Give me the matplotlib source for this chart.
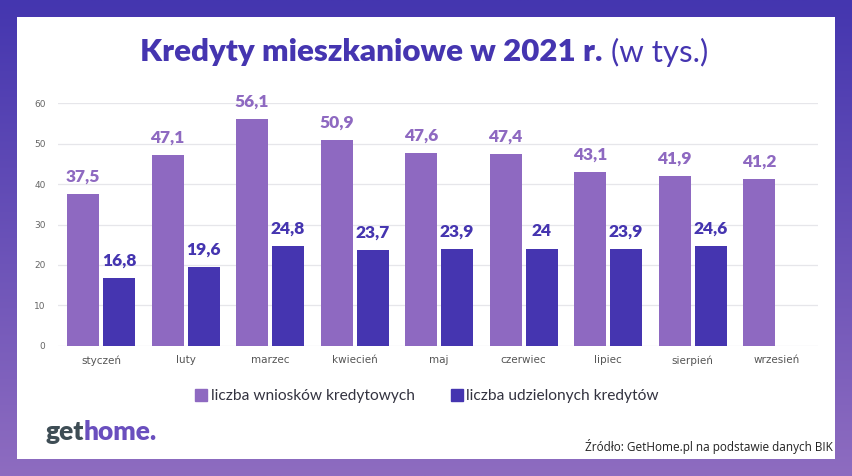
import numpy as np
import matplotlib
matplotlib.use("Agg")
import matplotlib.pyplot as plt
from matplotlib.patches import Rectangle
from matplotlib.lines import Line2D

months = ["styczeń", "luty", "marzec", "kwiecień", "maj", "czerwiec", "lipiec", "sierpień", "wrzesień"]
wnioski = [37.5, 47.1, 56.1, 50.9, 47.6, 47.4, 43.1, 41.9, 41.2]
udzielone = [16.8, 19.6, 24.8, 23.7, 23.9, 24, 23.9, 24.6, None]
yticks = [0, 10, 20, 30, 40, 50, 60]

LIGHT = "#8E69C1"
DARK = "#4535B0"
GRID = "#E6E6EA"

fig = plt.figure(figsize=(8.52, 4.76), dpi=100)
W, H = 852, 476

# background gradient
bg = fig.add_axes([0, 0, 1, 1])
bg.set_axis_off()
top = np.array(matplotlib.colors.to_rgb("#4436AF"))
bot = np.array(matplotlib.colors.to_rgb("#8E6CC0"))
t = np.linspace(0, 1, 256)[:, None]
grad = (top[None, :] * (1 - t) + bot[None, :] * t)[:, None, :]
bg.imshow(np.repeat(grad, 2, axis=1), aspect="auto", extent=[0, 1, 0, 1], origin="upper")
bg.set_xlim(0, 1); bg.set_ylim(0, 1)
bg.add_patch(Rectangle((17 / W, 1 - 459 / H), (835 - 17) / W, (459 - 17) / H,
                       facecolor="white", edgecolor="none", zorder=2))

# title (two parts, measured)
renderer = fig.canvas.get_renderer()
t1 = fig.text(0, 1 - 52 / H, "Kredyty mieszkaniowe w 2021 r.", ha="left", va="center",
              fontsize=22.5, fontweight="heavy", color=DARK, family="Lato", zorder=5)
t2 = fig.text(0, 1 - 52 / H, "(w tys.)", ha="left", va="center",
              fontsize=22.5, fontweight="normal", color=DARK, family="Lato", zorder=5)
w1 = t1.get_window_extent(renderer).width
w2 = t2.get_window_extent(renderer).width
gap = 8
total = w1 + gap + w2
x0 = 424 - total / 2
t1.set_x(x0 / W)
t2.set_x((x0 + w1 + gap) / W)

# chart axes
ax = fig.add_axes([58 / W, 1 - 345.7 / H, 760 / W, (345.7 - 103.3) / H])
ax.set_zorder(3)
ax.patch.set_alpha(0)
x = np.arange(len(months))
bw = 0.379
off = 0.213
for i, v in enumerate(wnioski):
    ax.bar(x[i] - off, v, width=bw, color=LIGHT, zorder=3)
    ax.text(x[i] - off, v + 2.3, f"{v}".replace(".", ","), ha="center", va="bottom",
            fontsize=12.5, fontweight="heavy", color=LIGHT, family="Lato")
for i, v in enumerate(udzielone):
    if v is None:
        continue
    ax.bar(x[i] + off, v, width=bw, color=DARK, zorder=3)
    s = f"{v:g}".replace(".", ",")
    ax.text(x[i] + off, v + 2.3, s, ha="center", va="bottom",
            fontsize=12.5, fontweight="heavy", color=DARK, family="Lato")

ax.set_xlim(-0.51, 8.485)
ax.set_ylim(0, 60)
ax.set_yticks(yticks)
ax.set_yticklabels([str(v) for v in yticks], fontsize=6.5, color="#666666")
ax.set_xticks(x)
ax.set_xticklabels(months, fontsize=7.5, color="#555555")
ax.tick_params(axis="both", length=0)
ax.tick_params(axis="y", pad=9)
ax.tick_params(axis="x", pad=7)
ax.grid(axis="y", color=GRID, linewidth=0.9, zorder=0)
for s in ax.spines.values():
    s.set_visible(False)

# legend
handles = [Line2D([], [], marker="s", linestyle="none", markersize=8, color=LIGHT),
           Line2D([], [], marker="s", linestyle="none", markersize=8, color=DARK)]
leg = fig.legend(handles, ["liczba wniosków kredytowych", "liczba udzielonych kredytów"],
                 loc="center", bbox_to_anchor=(0.5, 1 - 396 / H), ncol=2, frameon=False,
                 handletextpad=0.1, columnspacing=2.2, handlelength=1.0,
                 prop={"family": "Lato", "size": 11.2})
for txt in leg.get_texts():
    txt.set_color("#333340")
leg.set_zorder(6)

# logo
g = fig.text(45 / W, 1 - 432 / H, "get", ha="left", va="center", fontsize=19, fontweight="heavy",
             color="#3E4D55", family="Lato", zorder=6)
gw = g.get_window_extent(renderer).width
fig.text((45 + gw) / W, 1 - 432 / H, "home.", ha="left", va="center", fontsize=19, fontweight="heavy",
         color="#6A4FBE", family="Lato", zorder=6)

# source
fig.text(833 / W, 1 - 446 / H, "Źródło: GetHome.pl na podstawie danych BIK", ha="right", va="center",
         fontsize=8.5, color="#222222", family=["Liberation Sans Narrow", "Open Sans"], zorder=6)

fig.savefig("out.png", dpi=100)
